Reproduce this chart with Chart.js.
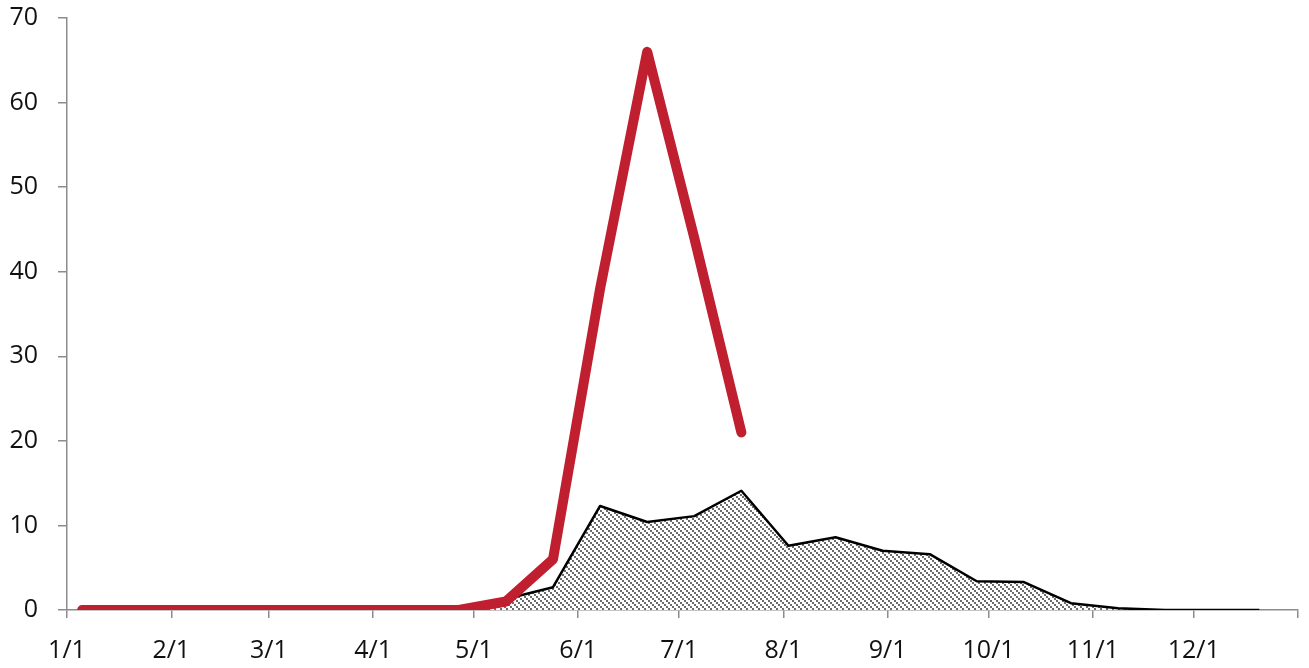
<!DOCTYPE html>
<html>
<head>
<meta charset="utf-8">
<script src="https://cdn.jsdelivr.net/npm/chart.js@4/dist/chart.umd.min.js"></script>
<style>
html,body{margin:0;padding:0;background:#fff;}
#c{display:block;}
</style>
</head>
<body>
<canvas id="c" width="1309" height="668"></canvas>
<script>
// Tick positions (day of a leap year) and their labels
const monthStartDays = [0,31,60,91,121,152,182,213,244,274,305,335,366];
const monthLabels = ['1/1','2/1','3/1','4/1','5/1','6/1','7/1','8/1','9/1','10/1','11/1','12/1',''];
const yTicks = [0,10,20,30,40,50,60,70];

// Red series (day of year, value)
const redDays = [4.5,18.5,32.5,46.5,60.5,74.5,88.5,102.5,116.5,130.5,144.5,158.5,172.5,186.5,200.5];
const redValues = [0,0,0,0,0,0,0,0,0,1.0,6.0,38,66,44,21];

// Hatched area series (day of year, value)
const areaDays = [116.5,130.5,144.5,158.5,172.5,186.5,200.5,214.5,228.5,242.5,256.5,270.5,284.5,298.5,312.5,326.5,340.5,354.5];
const areaValues = [0,1.3,2.7,12.3,10.4,11.1,14.1,7.6,8.6,7.0,6.6,3.4,3.3,0.8,0.2,0,0,0];

function makeHatch(){
  const p = document.createElement('canvas');
  p.width = 6; p.height = 6;
  const g = p.getContext('2d');
  g.fillStyle = '#ffffff';
  g.fillRect(0,0,6,6);
  g.fillStyle = '#6c6c6c';
  for(let i=0;i<6;i+=2){ g.fillRect(i,i,2,2); }
  return g.createPattern(p,'repeat');
}

const ctx = document.getElementById('c').getContext('2d');
const axisColor = '#8c8c8c';
const font = {family:'"Open Sans", "Noto Sans", sans-serif', size:25};

new Chart(ctx, {
  type: 'line',
  data: {
    datasets: [
      {
        label: 'red',
        data: redDays.map((d,i)=>({x:d,y:redValues[i]})),
        borderColor: '#C01F30',
        borderWidth: 10,
        borderCapStyle: 'round',
        borderJoinStyle: 'round',
        pointRadius: 0,
        tension: 0,
        fill: false,
        order: 0
      },
      {
        label: 'area',
        data: areaDays.map((d,i)=>({x:d,y:areaValues[i]})),
        borderColor: '#000000',
        borderWidth: 2.5,
        borderJoinStyle: 'round',
        backgroundColor: makeHatch(),
        pointRadius: 0,
        tension: 0,
        fill: 'origin',
        order: 1
      }
    ]
  },
  options: {
    responsive: false,
    animation: false,
    devicePixelRatio: 1,
    layout: {padding: {top: 18, right: 11, left: 0, bottom: 0}},
    plugins: {legend: {display: false}, tooltip: {enabled: false}},
    scales: {
      x: {
        type: 'linear',
        min: 0, max: 366,
        afterBuildTicks: (s) => { s.ticks = monthStartDays.map(v=>({value:v})); },
        afterFit: (s) => { s.height = 58; s.paddingLeft = 0; s.paddingRight = 0; s.paddingTop = 0; s.paddingBottom = 0; },
        ticks: {
          autoSkip: false,
          maxRotation: 0,
          padding: 18,
          color: '#111',
          font: font,
          callback: (v) => { const i = monthStartDays.indexOf(v); return i>=0 ? monthLabels[i] : ''; }
        },
        grid: {drawOnChartArea: false, drawTicks: true, tickLength: 8, color: axisColor, lineWidth: 1.5},
        border: {display: true, color: axisColor, width: 1.5}
      },
      y: {
        min: 0, max: 70,
        afterBuildTicks: (s) => { s.ticks = yTicks.map(v=>({value:v})); },
        afterFit: (s) => { s.width = 67; s.paddingLeft = 0; s.paddingRight = 0; s.paddingTop = 0; s.paddingBottom = 0; },
        ticks: {padding: 20, color: '#111', font: font},
        grid: {drawOnChartArea: false, drawTicks: true, tickLength: 9, color: axisColor, lineWidth: 1.5},
        border: {display: true, color: axisColor, width: 1.5}
      }
    }
  }
});
</script>
</body>
</html>
